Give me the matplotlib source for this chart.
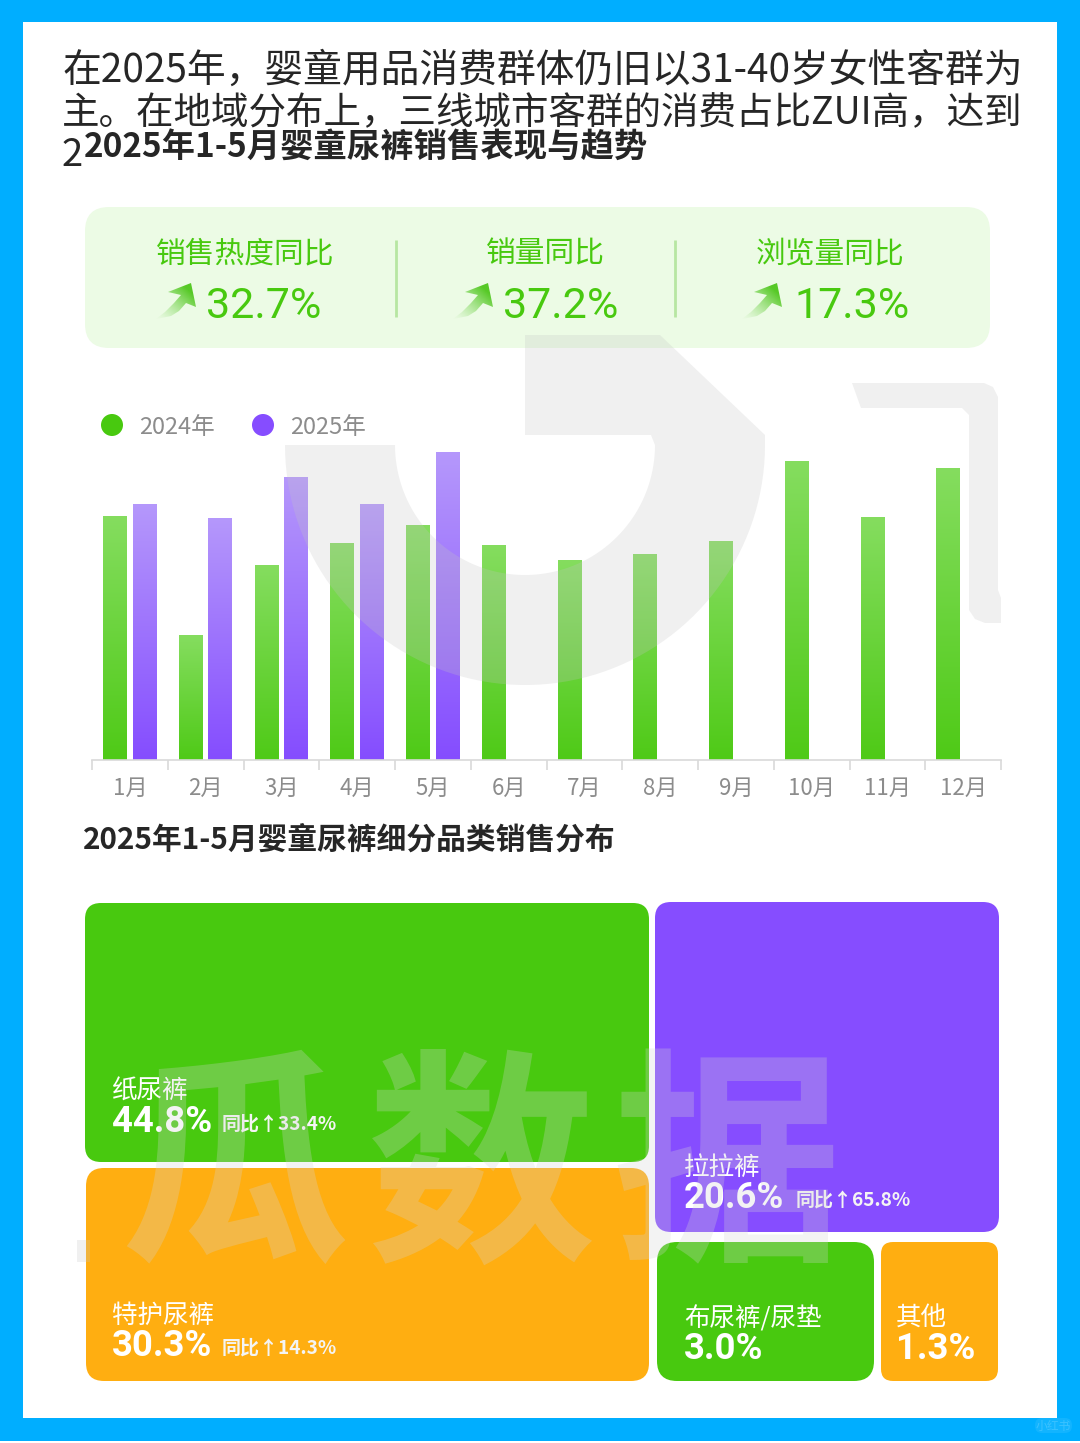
import numpy as np
import matplotlib
matplotlib.use('Agg')
import matplotlib.pyplot as plt
from matplotlib.patches import FancyBboxPatch, Polygon, Rectangle, Circle
from matplotlib.colors import to_rgb

plt.rcParams['font.family'] = ['Noto Sans CJK SC', 'DejaVu Sans']

# 数据
months = ['1月', '2月', '3月', '4月', '5月', '6月', '7月', '8月', '9月', '10月', '11月', '12月']
sales_2024 = [244, 125, 195, 217, 235, 215, 200, 206, 219, 299, 243, 292]
sales_2025 = [256, 242, 283, 256, 308]
years = ['2024年', '2025年']

kpi_names = ['销售热度同比', '销量同比', '浏览量同比']
kpi_values = ['32.7%', '37.2%', '17.3%']

cat_names = ['纸尿裤', '特护尿裤', '拉拉裤', '布尿裤/尿垫', '其他']
cat_shares = ['44.8%', '30.3%', '20.6%', '3.0%', '1.3%']
cat_yoy = ['同比↑33.4%', '同比↑14.3%', '同比↑65.8%', None, None]

intro = ['在2025年，婴童用品消费群体仍旧以31-40岁女性客群为',
         '主。在地域分布上，三线城市客群的消费占比ZUI高，达到']
title1 = '2025年1-5月婴童尿裤销售表现与趋势'
title2 = '2025年1-5月婴童尿裤细分品类销售分布'

GREEN = '#48C90F'
PURPLE = '#864DFF'
ORANGE = '#FFAE11'
BLUE = '#00AEFF'
GRAY = '#8C8C8C'
NUM_FONT = ['Roboto', 'Noto Sans CJK SC']

fig = plt.figure(figsize=(10.8, 14.43), dpi=100, facecolor='white')

# 底层，坐标就是像素
bg = fig.add_axes([0, 0, 1, 1], zorder=0)
bg.set_xlim(0, 1080)
bg.set_ylim(1443, 0)
bg.axis('off')

bg.add_patch(Rectangle((0, 0), 1080, 1441, fc=BLUE, ec='none'))
bg.add_patch(Rectangle((23, 22), 1034, 1396, fc='white', ec='none'))


def round_box(ax, x0, y0, x1, y1, r, color):
    ax.add_patch(FancyBboxPatch((x0 + r, y0 + r), x1 - x0 - 2 * r, y1 - y0 - 2 * r,
                                boxstyle='round,pad=%d,rounding_size=%d' % (r, r),
                                fc=color, ec='none', zorder=2))


# 顶部文字，第三行被标题盖住
bg.text(62, 71, intro[0], fontsize=27.95, color='#262626', va='center', zorder=2)
bg.text(62, 114, intro[1], fontsize=27.0, color='#262626', va='center', zorder=2)
bg.text(62, 156, '2', fontsize=27.6, color='#262626', va='center', zorder=2)
bg.add_patch(Rectangle((84, 130), 960, 60, fc='white', ec='none', zorder=3))
bg.add_patch(Rectangle((40, 169), 1000, 30, fc='white', ec='none', zorder=3))
bg.text(84, 147, title1, fontsize=24, fontweight='bold', color='#262626', va='center', zorder=4)
bg.text(83, 840, title2, fontsize=21.4, fontweight='bold', color='#262626', va='center', zorder=4)

# 同比卡片
round_box(bg, 85, 207, 990, 348, 24, '#ECFBE5')
for x in [396, 675]:
    bg.plot([x, x], [240, 317], color='#B7E6A2', lw=2, zorder=3, solid_capstyle='butt')

kpi_cx = [245, 545, 830]
value_x = [206, 503, 794]
arrow_tip = [193, 490, 779]
grad = np.zeros((64, 64, 4))
grad[..., :3] = to_rgb('#56C926')
yy, xx = np.mgrid[0:1:64j, 0:1:64j]
grad[..., 3] = np.clip((xx + (1 - yy)) / 1.6, 0.03, 1) ** 1.4
for name, val, cx, vx, tip in zip(kpi_names, kpi_values, kpi_cx, value_x, arrow_tip):
    bg.text(cx, 254, name, fontsize=21.4, color=GREEN, ha='center', va='center', zorder=4)
    bg.text(vx, 307, val, fontsize=31, color=GREEN, family=NUM_FONT, va='center', zorder=4)
    pts = np.array([(-2, 0), (3, 24), (-7, 20), (-14, 28), (-22, 33), (-37, 36), (-28, 29), (-19, 20), (-12, 12), (-25, 9)]) + (tip, 283)
    arrow = Polygon(pts, closed=True, fc='none', ec='none', transform=bg.transData)
    bg.add_patch(arrow)
    im = bg.imshow(grad, extent=(tip - 38, tip + 4, 320, 282), aspect='auto', zorder=4, origin='upper')
    im.set_clip_path(arrow)
bg.set_xlim(0, 1080)
bg.set_ylim(1443, 0)

# 图例
for x, c, y_label in zip([112, 263], [GREEN, PURPLE], years):
    bg.add_patch(Circle((x, 425), 11, fc=c, ec='none', zorder=3))
    bg.text(x + 27, 427, y_label, fontsize=17, color=GRAY, va='center', zorder=3)

# 柱状图
ax = fig.add_axes([92 / 1080, 1 - 760 / 1443, 909 / 1080, 320 / 1443], zorder=1)
ax.patch.set_alpha(0)
x = np.arange(len(months))
w = 0.315


def fade(color_top, color_bottom):
    c = np.linspace(to_rgb(color_top), to_rgb(color_bottom), 128)
    return c[:, None, :]


g_img = fade('#85DD5F', '#4FCA17')
p_img = fade('#B598FB', '#854DFF')
for xs, vals, img in [(x - 0.195, sales_2024, g_img), (x[:5] + 0.195, sales_2025, p_img)]:
    bars = ax.bar(xs, vals, width=w, color='none')
    for b in bars:
        im = ax.imshow(img, extent=(b.get_x(), b.get_x() + b.get_width(), 0, b.get_height()),
                       aspect='auto', origin='upper', zorder=2)
        im.set_clip_path(b)

ax.set_xlim(-0.5, 11.5)
ax.set_ylim(0, 320)
for s in ['top', 'left', 'right']:
    ax.spines[s].set_visible(False)
ax.spines['bottom'].set_color('#D9D9D9')
ax.spines['bottom'].set_linewidth(1.2)
ax.set_yticks([])
ax.set_xticks(x)
ax.set_xticklabels(months, fontsize=16, color=GRAY)
ax.tick_params(axis='x', length=0, pad=12)
ax.set_xticks(np.arange(-0.5, 12), minor=True)
ax.tick_params(axis='x', which='minor', length=7, color='#D9D9D9', width=1.2)

# 品类方块：x0, y0, x1, y1, 圆角, 颜色, 文字x, 名称y, 同比x
cells = [(85, 903, 649, 1162, 16, GREEN, 112, 1092, 222),
         (86, 1168, 649, 1381, 18, ORANGE, 112, 1316, 222),
         (655, 902, 999, 1232, 16, PURPLE, 684, 1168, 796),
         (657, 1242, 874, 1381, 20, GREEN, 684, 1319, 0),
         (881, 1242, 998, 1381, 12, ORANGE, 896, 1319, 0)]
for cell, name, share, yoy in zip(cells, cat_names, cat_shares, cat_yoy):
    x0, y0, x1, y1, r, c, tx, ty, yx = cell
    round_box(bg, x0, y0, x1, y1, r, c)
    bg.text(tx, ty, name, fontsize=18.4, color='white', va='center', zorder=4)
    bg.text(tx, ty + 30, share, fontsize=26.3, fontweight='bold', color='white',
            family=NUM_FONT, va='center', zorder=4)
    if yoy:
        bg.text(yx, ty + 32, yoy, fontsize=13.7, fontweight='bold', color='#F4F4F4', va='center', zorder=4)

round_box(bg, 1035, 1418, 1072, 1433, 7, '#12B4FF')
bg.text(1053, 1426, '小红书', fontsize=8.5, color='#3CC2FF', ha='center', va='center', zorder=4)

# 水印压在最上面
wm = fig.add_axes([0, 0, 1, 1], zorder=3)
wm.set_xlim(0, 1080)
wm.set_ylim(1443, 0)
wm.axis('off')
wm.patch.set_alpha(0)
WM = dict(fc='#C4C4C4', ec='none', alpha=0.25)

t_out = np.radians(np.linspace(0, 180, 80))
t_in = t_out[::-1]
outer = np.c_[525 + 240 * np.cos(t_out), 445 + 240 * np.sin(t_out)]
inner = np.c_[525 + 130 * np.cos(t_in), 445 + 130 * np.sin(t_in)]
logo = np.vstack([[(525, 335), (660, 335), (765, 435)], outer, inner, [(651, 435), (525, 435)]])
wm.add_patch(Polygon(logo, closed=True, **WM))
wm.add_patch(Polygon([(852, 383), (984, 383), (993, 387), (998, 397), (998, 590), (1001, 598), (1001, 623),
                      (985, 623), (975, 619), (969, 610), (969, 415), (962, 408), (861, 408)], closed=True, **WM))
wm.add_patch(Rectangle((77, 1240), 13, 22, **WM))
for ch, cx in zip('瓜数据', [235, 482, 727]):
    wm.text(cx, 1176, ch, fontsize=165, fontweight='bold', color='#D4D4D4', alpha=0.28,
            ha='center', va='center')

fig.savefig('out.png', dpi=100)
